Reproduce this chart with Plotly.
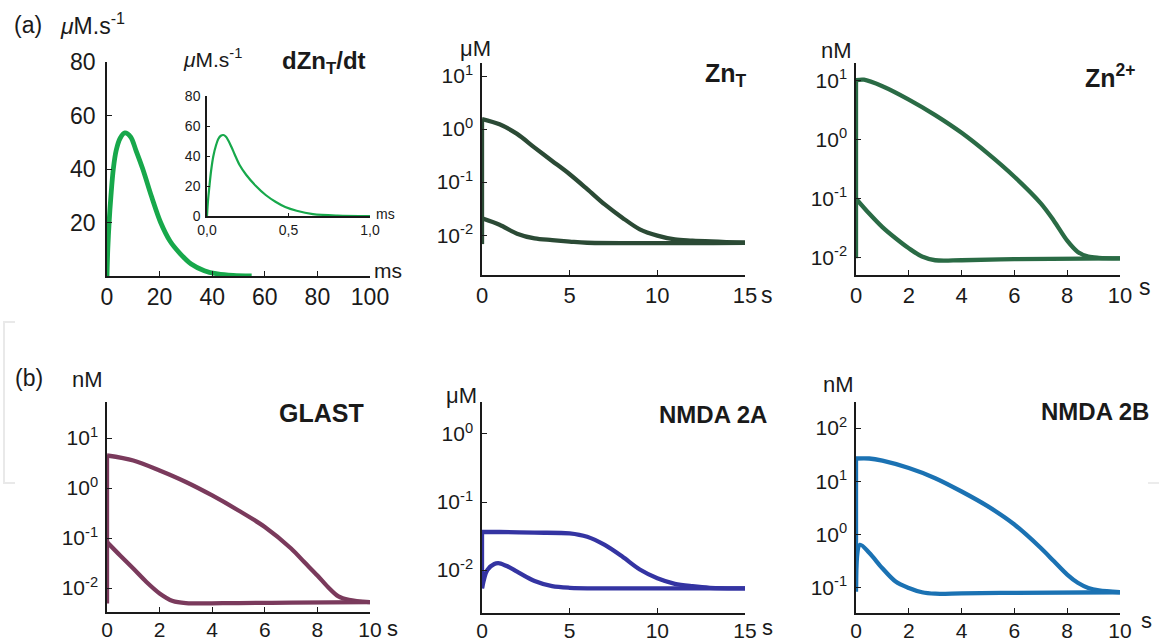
import math
import plotly.graph_objects as go

W, H = 1159, 643
FONT = "Liberation Sans, Arial, sans-serif"

# ---- data ----------------------------------------------------------------
# dZnT/dt, main trace (ms, µM/s)
rate_t = [0, 0.3, 0.8, 1.5, 2.4, 3.5, 5, 6.8, 9, 11, 13.6, 17, 20.4, 24, 27.7, 32, 37, 42, 48, 55]
rate_v = [0, 10, 20, 30, 40, 47, 51.5, 53.5, 52, 47, 40, 29.5, 20, 13, 8.5, 4.5, 2, 0.8, 0.2, 0]

# dZnT/dt, inset trace (ms, µM/s)
inset_t = [0, 0.006, 0.015, 0.025, 0.039, 0.055, 0.07, 0.085, 0.1, 0.115, 0.13, 0.15, 0.17, 0.20, 0.24,
           0.30, 0.36, 0.42, 0.48, 0.55, 0.65, 0.8, 1.0]
inset_v = [0, 10, 20, 30, 40, 47, 51.5, 53.5, 54, 53, 50.5, 46, 41, 34, 27.5,
           20, 14, 9.5, 6, 3.5, 1.3, 0.3, 0]

# ZnT (s, µM)
znt_hi_t = [0, 1, 2, 3, 4, 5, 6, 7, 8, 9, 10, 11, 12, 15]
znt_hi_v = [1.55, 1.23, 0.81, 0.447, 0.251, 0.141, 0.074, 0.038, 0.0214, 0.0129, 0.0098, 0.0083, 0.0079, 0.0072]
znt_lo_t = [0, 1, 2, 3, 4, 5, 6, 15]
znt_lo_v = [0.0209, 0.0158, 0.0107, 0.0087, 0.0081, 0.0076, 0.0072, 0.0072]
znt_base = 0.0068

# Zn2+ (s, nM)
zn_hi_t = [0, 0.3, 1, 2, 3, 4, 5, 6, 7, 7.5, 8, 8.4, 8.8, 9.2, 10]
zn_hi_v = [10.0, 10.2, 7.9, 4.7, 2.57, 1.29, 0.575, 0.234, 0.083, 0.042, 0.0195, 0.0126, 0.0105, 0.0100, 0.0098]
zn_lo_t = [0, 0.5, 1, 1.5, 2, 2.5, 3, 4, 6, 10]
zn_lo_v = [0.1, 0.056, 0.033, 0.0214, 0.0145, 0.0105, 0.0091, 0.0091, 0.0095, 0.0098]
zn_base = 0.0098

# GLAST (s, nM)
gl_hi_t = [0, 1, 2, 3, 4, 5, 6, 7, 7.5, 8, 8.4, 8.8, 9.2, 10]
gl_hi_v = [4.47, 3.55, 2.24, 1.32, 0.71, 0.355, 0.166, 0.0617, 0.033, 0.0178, 0.0105, 0.0068, 0.0058, 0.0052]
gl_lo_t = [0, 0.5, 1, 1.5, 2, 2.5, 3, 5, 7, 10]
gl_lo_v = [0.083, 0.0447, 0.0245, 0.0132, 0.0078, 0.0055, 0.005, 0.005, 0.0051, 0.0052]
gl_base = 0.0049

# NMDA 2A (s, µM)
n2a_hi_t = [0, 1, 3, 5, 6, 7, 8, 9, 10, 11, 12, 13, 15]
n2a_hi_v = [0.0363, 0.0363, 0.0355, 0.0347, 0.0309, 0.0234, 0.0158, 0.0102, 0.0076, 0.0063, 0.0058, 0.0055, 0.0054]
n2a_lo_t = [0, 0.3, 0.7, 1, 1.5, 2, 3, 4, 5, 7, 15]
n2a_lo_v = [0.0054, 0.010, 0.0123, 0.0126, 0.0112, 0.0095, 0.0069, 0.0058, 0.0055, 0.0054, 0.0054]
n2a_base = 0.0054

# NMDA 2B (s, nM)
n2b_hi_t = [0, 0.5, 1, 2, 3, 4, 5, 6, 7, 7.5, 8, 8.4, 8.8, 9.2, 10]
n2b_hi_v = [26.9, 26.9, 24.5, 17.8, 11.5, 6.46, 3.39, 1.55, 0.562, 0.316, 0.178, 0.125, 0.1, 0.09, 0.083]
n2b_lo_t = [0, 0.15, 0.5, 1, 1.5, 2, 2.5, 3, 4, 6, 10]
n2b_lo_v = [0.1, 0.646, 0.457, 0.234, 0.132, 0.1, 0.083, 0.078, 0.079, 0.081, 0.083]
n2b_base = 0.085


def fx(x):
    return x / W


def fy(y):
    return 1 - y / H


fig = go.Figure()


def curve(t, v, color, width, ax, shape="spline"):
    fig.add_trace(go.Scatter(
        x=t, y=v, mode="lines",
        line=dict(color=color, width=width, shape=shape, smoothing=0.9),
        xaxis="x" + ax, yaxis="y" + ax, hoverinfo="skip", showlegend=False))


def onset(base, top, color, width, ax):
    # vertical rise at t = 0
    curve([0, 0], [base, top], color, width, ax, shape="linear")


GREEN = "#17a84b"
ZNT_C = "#2b4a35"
ZN_C = "#2a6b45"
GL_C = "#7a3a5c"
N2A_C = "#3434a2"
N2B_C = "#1b72b3"
LW = 4.3

curve(rate_t, rate_v, GREEN, 4.8, "")
curve(inset_t, inset_v, GREEN, 2.2, "2")

onset(znt_base, znt_hi_v[0], ZNT_C, LW, "3")
curve(znt_hi_t, znt_hi_v, ZNT_C, LW, "3")
curve(znt_lo_t, znt_lo_v, ZNT_C, LW, "3")

onset(zn_base, zn_hi_v[0], ZN_C, LW, "4")
curve(zn_hi_t, zn_hi_v, ZN_C, LW, "4")
curve(zn_lo_t, zn_lo_v, ZN_C, LW, "4")

onset(gl_base, gl_hi_v[0], GL_C, LW, "5")
curve(gl_hi_t, gl_hi_v, GL_C, LW, "5")
curve(gl_lo_t, gl_lo_v, GL_C, LW, "5")

onset(n2a_base, n2a_hi_v[0], N2A_C, LW, "6")
curve(n2a_hi_t, n2a_hi_v, N2A_C, LW, "6")
curve(n2a_lo_t, n2a_lo_v, N2A_C, LW, "6")

onset(n2b_base, n2b_hi_v[0], N2B_C, LW, "7")
curve(n2b_hi_t, n2b_hi_v, N2B_C, LW, "7")
curve(n2b_lo_t, n2b_lo_v, N2B_C, LW, "7")


def xax(x0, x1, y_ref, rng, tickvals, size=22, ticktext=None, standoff=0):
    d = dict(domain=[fx(x0), fx(x1)], range=rng, anchor=y_ref, automargin=False,
             showline=True, linecolor="#1a1a1a", linewidth=1.5,
             ticks="inside", ticklen=5, tickwidth=1.3, tickcolor="#1a1a1a",
             showgrid=False, zeroline=False, tickvals=tickvals,
             ticklabelstandoff=standoff,
             tickfont=dict(family=FONT, size=size, color="#1a1a1a"))
    if ticktext is not None:
        d["ticktext"] = ticktext
    return d


def yax(y_bot, y_top, x_ref, rng, tickvals, ticktext=None, log=False, size=22, standoff=6):
    d = dict(domain=[fy(y_bot), fy(y_top)], range=rng, anchor=x_ref, automargin=False,
             showline=True, linecolor="#1a1a1a", linewidth=1.5,
             ticks="inside", ticklen=5, tickwidth=1.3, tickcolor="#1a1a1a",
             showgrid=False, zeroline=False, tickvals=tickvals,
             ticklabelstandoff=standoff,
             tickfont=dict(family=FONT, size=size, color="#1a1a1a"))
    if log:
        d["type"] = "log"
    if ticktext is not None:
        d["ticktext"] = ticktext
    return d


def sup(vals):
    return ["10<sup>%d</sup>" % round(math.log10(v)) for v in vals]


dec_a = [0.01, 0.1, 1, 10]
dec_2a = [0.01, 0.1, 1]
dec_2b = [0.1, 1, 10, 100]

layout_axes = dict(
    xaxis=xax(107, 370, "y", [0, 100], [0, 20, 40, 60, 80, 100], size=23),
    yaxis=yax(276, 62, "x", [0, 80], [20, 40, 60, 80], size=23, standoff=5),
    xaxis2=xax(207, 370, "y2", [0, 1], [0, 0.5, 1.0], size=14, ticktext=["0,0", "0,5", "1,0"]),
    yaxis2=yax(216, 96, "x2", [0, 80], [0, 20, 40, 60, 80], size=14, standoff=2),
    xaxis3=xax(482, 745, "y3", [0, 15], [0, 5, 10, 15]),
    yaxis3=yax(275, 63, "x3", [-2.75, 1.245], dec_a, sup(dec_a), log=True, size=21, standoff=3),
    xaxis4=xax(856, 1120, "y4", [0, 10], [0, 2, 4, 6, 8, 10]),
    yaxis4=yax(275, 63, "x4", [-2.29, 1.29], dec_a, sup(dec_a), log=True, size=21, standoff=3),
    xaxis5=xax(107, 370, "y5", [0, 10], [0, 2, 4, 6, 8, 10], size=21, standoff=-2),
    yaxis5=yax(612, 402, "x5", [-2.48, 1.72], dec_a, sup(dec_a), log=True, size=21, standoff=3),
    xaxis6=xax(482, 745, "y6", [0, 15], [0, 5, 10, 15], size=21, standoff=-2),
    yaxis6=yax(613, 402, "x6", [-2.63, 0.47], dec_2a, sup(dec_2a), log=True, size=21, standoff=3),
    xaxis7=xax(856, 1120, "y7", [0, 10], [0, 2, 4, 6, 8, 10], size=21, standoff=-2),
    yaxis7=yax(613, 402, "x7", [-1.47, 2.49], dec_2b, sup(dec_2b), log=True, size=21, standoff=3),
)
layout_axes["xaxis2"]["ticklen"] = 3
layout_axes["yaxis2"]["ticklen"] = 3


def label(x, y, text, size=22, bold=False):
    if bold:
        text = "<b>" + text + "</b>"
    return dict(x=fx(x), y=fy(y), xref="paper", yref="paper", text=text,
                showarrow=False, xanchor="center", yanchor="middle",
                font=dict(family=FONT, size=size, color="#1a1a1a"))


annotations = [
    label(28, 25, "(a)", 23),
    label(92, 24, "<i>μ</i>M.s<sup>-1</sup>", 23),
    label(212, 58, "<i>μ</i>M.s<sup>-1</sup>", 21),
    label(324, 62, "dZn<sub>T</sub>/dt", 24, bold=True),
    label(385, 214, "ms", 14),
    label(388, 271, "ms", 21),
    label(475, 48, "μM", 22),
    label(726, 75, "Zn<sub>T</sub>", 25, bold=True),
    label(767, 295, "s", 23),
    label(836, 50, "nM", 22),
    label(1110, 76, "Zn<sup>2+</sup>", 25, bold=True),
    label(1145, 287, "s", 23),
    label(29, 378, "(b)", 23),
    label(87, 379, "nM", 22),
    label(321, 413, "GLAST", 25, bold=True),
    label(392, 628, "s", 22),
    label(461, 395, "μM", 22),
    label(713, 415, "NMDA 2A", 24, bold=True),
    label(768, 627, "s", 22),
    label(838, 384, "nM", 22),
    label(1095, 411, "NMDA 2B", 24, bold=True),
    label(1146, 620, "s", 22),
]

# faint page frame marks
shapes = [
    dict(type="path", xref="paper", yref="paper",
         path="M %f %f L %f %f L %f %f L %f %f" % (fx(15), fy(322), fx(4), fy(322), fx(4), fy(483), fx(15), fy(483)),
         line=dict(color="#e9e9e9", width=2)),
    dict(type="path", xref="paper", yref="paper",
         path="M %f %f L %f %f" % (fx(1148), fy(483), fx(1159), fy(483)),
         line=dict(color="#ececec", width=2)),
]

fig.update_layout(
    width=W, height=H, margin=dict(l=0, r=0, t=0, b=0, autoexpand=False),
    paper_bgcolor="white", plot_bgcolor="rgba(0,0,0,0)",
    showlegend=False, annotations=annotations, shapes=shapes,
    **layout_axes,
)

fig.write_html("out.html", config={"displayModeBar": False})
